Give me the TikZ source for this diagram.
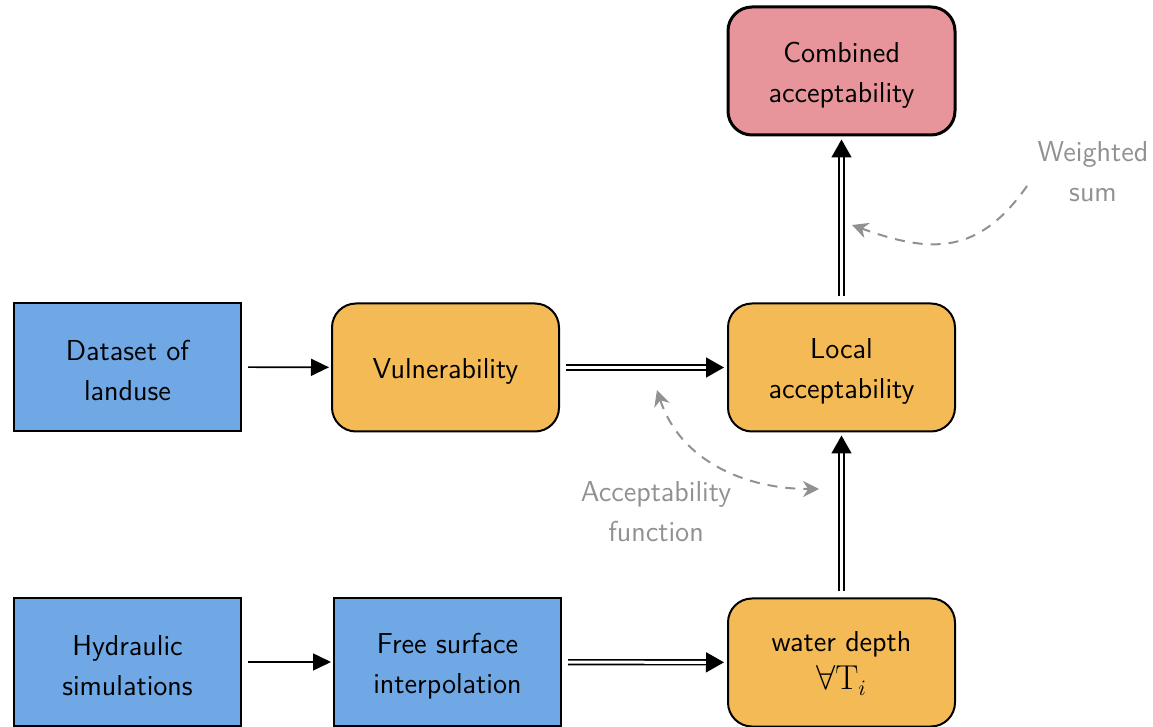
\documentclass[tikz,border=0pt]{standalone}
\usetikzlibrary{arrows.meta}
\definecolor{landblue}{RGB}{111,168,228}
\definecolor{procorange}{RGB}{244,186,85}
\definecolor{resultpink}{RGB}{232,148,155}
\definecolor{notegray}{RGB}{145,145,145}
\tikzset{
  basebox/.style={draw=black, line width=1pt, minimum width=113.5pt, minimum height=64pt, inner sep=0pt},
  databox/.style={basebox, fill=landblue},
  procbox/.style={basebox, fill=procorange, rounded corners=12pt},
  resultbox/.style={basebox, fill=resultpink, rounded corners=12pt, line width=1.5pt},
  boxtext/.style={align=center, font=\sffamily\fontsize{14.4}{20}\selectfont, inner sep=0pt, yshift=-2pt},
  thinarrow/.style={line width=0.8pt, -{Triangle[length=9pt, width=8.5pt]}, shorten <=3pt, shorten >=1pt},
  duoarrow/.style={double, double distance=1.5pt, line width=0.8pt,
    -{Triangle[length=9pt, width=10pt]}, shorten <=3pt, shorten >=1.5pt},
  notearrow/.style={notegray, line width=1pt, dash pattern=on 5pt off 4pt},
  notelabel/.style={text=notegray, align=center, font=\sffamily\fontsize{14.4}{20}\selectfont},
}
\begin{document}
\begin{tikzpicture}[x=0.5pt, y=-0.5pt]
\useasboundingbox (0,0) rectangle (1153,727);

% boxes
\node[databox]   (data)  at (127.5,367)   {};
\node[procbox]   (vuln)  at (445.5,367.5) {};
\node[procbox]   (local) at (841.5,367.5) {};
\node[resultbox] (comb)  at (841.5,71)    {};
\node[databox]   (hyd)   at (127.5,662)   {};
\node[databox]   (free)  at (447.5,662)   {};
\node[procbox]   (water) at (841.5,662.5) {};

% box captions
\node[boxtext] (datatxt)  at (data)  {Dataset of\\landuse};
\node[boxtext] (vulntxt)  at (vuln)  {Vulnerability};
\node[boxtext] (localtxt) at (local) {Local\\acceptability};
\node[boxtext] (combtxt)  at (comb)  {Combined\\acceptability};
\node[boxtext] (hydtxt)   at (hyd)   {Hydraulic\\simulations};
\node[boxtext] (freetxt)  at (free)  {Free surface\\interpolation};
\node[boxtext, yshift=1.5pt] (watertxt) at (water)
  {water depth\\[-1pt]{\fontsize{16}{20}\selectfont$\forall\mathrm{T}_i$}};

% main flow
\draw[thinarrow] (data) -- (vuln);
\draw[thinarrow] (hyd) -- (free);
\draw[duoarrow] (vuln) -- (local);
\draw[duoarrow] (free) -- (water);
\draw[duoarrow] (water) -- (local);
\draw[duoarrow] (local) -- (comb);

% annotations
\coordinate (af1) at (657,390);
\coordinate (af2) at (819,489);
\draw[notearrow, {Stealth[length=8pt, width=8pt]}-{Stealth[length=8pt, width=8pt]}]
  (af1) to[out=-72, in=180] (af2);
\node[notelabel] (aflab) at (656,512) {Acceptability\\function};

\coordinate (ws1) at (1027,186);
\coordinate (ws2) at (852,225);
\draw[notearrow, -{Stealth[length=8pt, width=8pt]}]
  (ws1) to[out=-125, in=-20, looseness=1.2] (ws2);
\node[notelabel] (wslab) at (1093,172) {Weighted\\sum};
\end{tikzpicture}
\end{document}
